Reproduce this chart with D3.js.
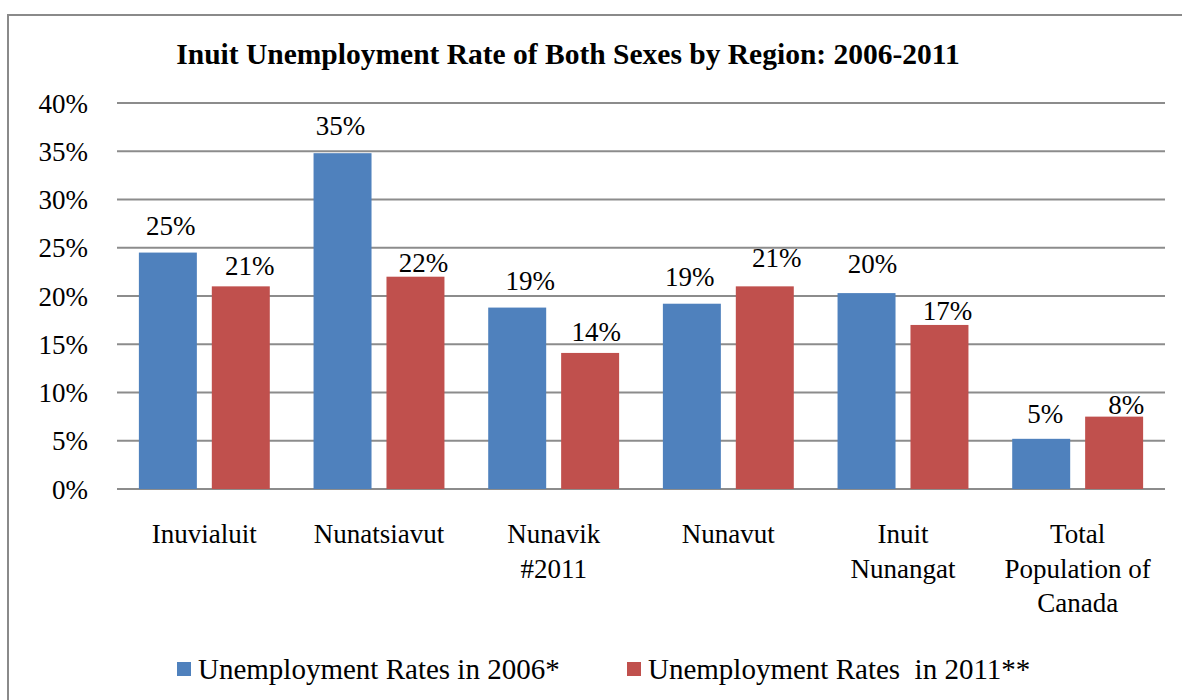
<!DOCTYPE html>
<html>
<head>
<meta charset="utf-8">
<script src="https://cdn.jsdelivr.net/npm/d3@7/dist/d3.min.js"></script>
<style>
  html, body { margin: 0; padding: 0; background: #fff; }
  svg { display: block; }
  text { font-family: "Liberation Serif", "Times New Roman", serif; fill: #000; }
</style>
</head>
<body>
<svg id="chart" width="1182" height="700"></svg>
<script>
// Regions and unemployment rates (%)
const regions = [
  ["Inuvialuit"],
  ["Nunatsiavut"],
  ["Nunavik", "#2011"],
  ["Nunavut"],
  ["Inuit", "Nunangat"],
  ["Total", "Population of", "Canada"]
];
const seriesNames = ["Unemployment Rates in 2006*", "Unemployment Rates  in 2011**"];
const rates2006 = [24.5, 34.8, 18.8, 19.2, 20.3, 5.2];
const rates2011 = [21.0, 22.0, 14.1, 21.0, 17.0, 7.5];
const yTicks = [0, 5, 10, 15, 20, 25, 30, 35, 40];
const colors = ["#4f81bd", "#c0504d"];

// hand-placed label nudges [dx, dy] per series and region
const labelNudge = [
  [[3, 0], [-2, 0], [13, 0], [-2, 0], [6, -2], [4, 2]],
  [[9, 7], [8, 13], [6, 6], [12, -1], [8, 13], [12, 15]]
];

const FONT = "'Liberation Serif', 'Times New Roman', serif";
const svg = d3.select("#chart");

// outer chart frame
svg.append("rect")
  .attr("x", 8).attr("y", 15)
  .attr("width", 1200).attr("height", 720)
  .attr("fill", "none").attr("stroke", "#8a8a8a").attr("stroke-width", 2);

// title
svg.append("text")
  .attr("x", 568).attr("y", 64)
  .attr("text-anchor", "middle")
  .style("font-family", FONT)
  .style("font-weight", "bold").style("font-size", "29.5px")
  .text("Inuit Unemployment Rate of Both Sexes by Region: 2006-2011");

const plot = { left: 117, right: 1165, top: 103, bottom: 489 };

const y = d3.scaleLinear().domain([0, 40]).range([plot.bottom, plot.top]);
const x = d3.scaleBand().domain(d3.range(regions.length)).range([plot.left, plot.right]).padding(0);
const xs = d3.scaleBand().domain([0, 1]).range([0, x.bandwidth()]).paddingInner(0.205).paddingOuter(0.3);

// gridlines
svg.append("g")
  .selectAll("line").data(yTicks).join("line")
  .attr("x1", plot.left).attr("x2", plot.right)
  .attr("y1", d => y(d)).attr("y2", d => y(d))
  .attr("stroke", "#8c8c8c").attr("stroke-width", 2);

// y axis labels
const yAxis = d3.axisLeft(y).tickValues(yTicks).tickSize(0).tickPadding(0).tickFormat(d => d + "%");
const gy = svg.append("g").attr("transform", `translate(88,0)`).call(yAxis)
  .attr("font-family", FONT).attr("font-size", 27);
gy.select(".domain").remove();
gy.selectAll("text")
  .attr("dy", "0.34em")
  .style("font-size", "27px")
  .style("font-family", FONT)
  .attr("fill", "#000");

// bars with value labels
const seriesData = [rates2006, rates2011];
seriesData.forEach((vals, s) => {
  const g = svg.append("g");
  g.selectAll("rect").data(vals).join("rect")
    .attr("x", (d, i) => x(i) + xs(s))
    .attr("y", d => y(d))
    .attr("width", xs.bandwidth())
    .attr("height", d => y(0) - y(d))
    .attr("fill", colors[s]);
  g.selectAll("text").data(vals).join("text")
    .attr("x", (d, i) => x(i) + xs(s) + xs.bandwidth() / 2 + labelNudge[s][i][0])
    .attr("y", (d, i) => y(d) - 18 + labelNudge[s][i][1])
    .attr("text-anchor", "middle")
    .style("font-family", FONT)
    .style("font-size", "27px")
    .text(d => Math.round(d) + "%");
});

// category labels
const cat = svg.append("g");
regions.forEach((lines, i) => {
  const t = cat.append("text")
    .attr("text-anchor", "middle")
    .style("font-family", FONT)
    .style("font-size", "27px");
  lines.forEach((ln, k) => {
    t.append("tspan")
      .attr("x", x(i) + x.bandwidth() / 2)
      .attr("y", 543 + k * 34.5)
      .text(ln);
  });
});

// legend
const legendX = [177, 627];
seriesNames.forEach((name, s) => {
  svg.append("rect")
    .attr("x", legendX[s]).attr("y", 662)
    .attr("width", 14).attr("height", 14)
    .attr("fill", colors[s]);
  svg.append("text")
    .attr("x", legendX[s] + 21).attr("y", 679)
    .style("font-family", FONT)
    .style("font-size", "29px")
    .style("white-space", "pre")
    .text(name);
});
</script>
</body>
</html>
